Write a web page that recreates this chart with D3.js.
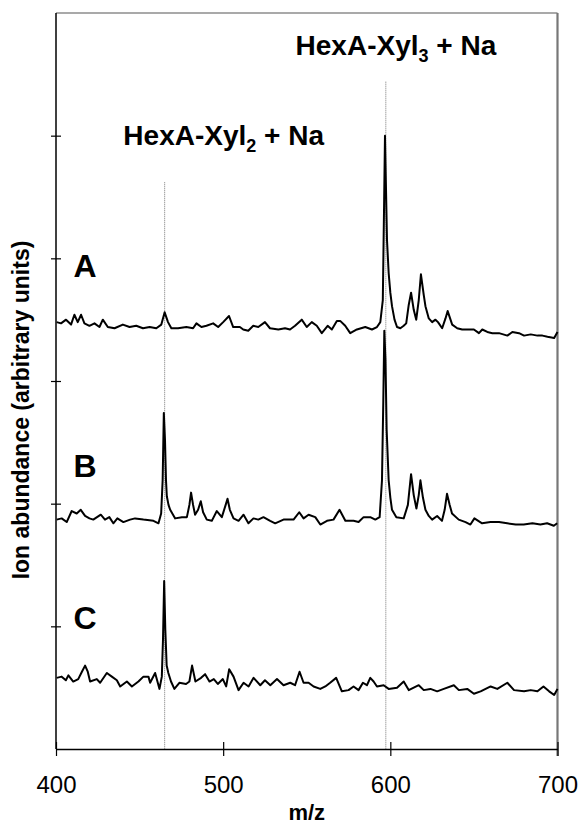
<!DOCTYPE html>
<html>
<head>
<meta charset="utf-8">
<script src="https://cdn.jsdelivr.net/npm/d3@7"></script>
<style>
  body { margin: 0; background: #fff; }
  svg { display: block; font-family: "Liberation Sans", Arial, sans-serif; }
</style>
</head>
<body>
<div id="chart"></div>
<script>
// m/z ticks and the (unlabelled) abundance ticks
const xTicks = [400, 500, 600, 700];
const yTicks = [0, 10, 20, 30, 40, 50, 60];

// stacked spectra, [m/z, abundance] in arbitrary units
const specA = [[400.4,34.8],[403,34.7],[406,35.0],[409,34.6],[411,35.4],[413,34.8],[415,35.4],[417,34.7],[420,34.5],[423,34.7],[426,34.4],[428,35.0],[431,34.4],[435,34.3],[440,34.6],[444,34.4],[448,34.5],[452,34.3],[456,34.4],[460,34.3],[463,34.6],[465,35.6],[467,34.8],[469,34.3],[473,34.3],[478,34.4],[482,34.3],[484,34.7],[487,34.4],[490,34.5],[494,34.7],[497,34.4],[500,34.8],[503.5,35.3],[506,34.4],[510,34.4],[512,34.2],[515,34.1],[518,34.5],[521,34.4],[525,34.8],[528,34.3],[533,34.2],[537,34.3],[540,34.2],[543,34.5],[547,35.0],[550,34.4],[553,34.8],[556,34.5],[559,33.9],[562.5,34.5],[565,34.2],[568,34.9],[570,34.9],[573,34.5],[576,33.9],[580,34.2],[585,34.4],[589,34.2],[592,34.4],[594,34.8],[595.5,36.6],[596.3,44.7],[596.8,50.0],[597.3,46.4],[598,41.5],[599,38.8],[600,37.2],[601,36.1],[602.5,35.0],[604,34.4],[606,34.3],[608,34.5],[609.5,34.7],[611,36.2],[612.4,37.2],[614,35.8],[615.5,35.0],[617,36.6],[618.3,38.7],[620,37.0],[621,36.1],[623,35.1],[625,34.8],[627,35.0],[628.5,34.8],[631,34.3],[633,35.1],[634.3,35.7],[636,35.0],[637,34.6],[640,34.3],[643,34.2],[646,34.2],[650,34.2],[653,33.9],[655,34.2],[658,34.0],[661,33.9],[665,33.9],[670,33.7],[673,34.0],[677,33.9],[680,33.7],[684,33.8],[688,33.7],[691,33.7],[694,33.6],[698,33.5],[700,34.0]];

const specB = [[400.4,18.7],[403.4,18.8],[406.4,18.5],[409.4,19.4],[412.4,19.2],[414.8,19.5],[417.4,19.0],[420,18.8],[422.3,18.7],[426.8,19.1],[429.3,18.7],[431.9,18.9],[434.3,18.4],[436.7,18.8],[440.3,18.5],[444.3,18.7],[447.3,18.8],[452.3,18.7],[458.3,18.6],[461.3,18.4],[462.9,19.2],[463.8,21.9],[464.5,27.4],[465.2,25.2],[465.8,21.9],[466.3,20.6],[467.3,19.9],[468.3,19.5],[471.3,18.8],[475.3,18.9],[478.3,18.9],[479.8,19.9],[480.8,20.9],[482,19.9],[483.2,19.1],[485,19.5],[486.6,20.2],[488,19.3],[490.2,18.7],[493.2,18.6],[496.2,19.4],[499.2,18.9],[501.5,19.9],[502.6,20.4],[504,19.5],[506.2,18.8],[509.2,18.6],[512.2,19.1],[515.1,18.4],[518.1,18.8],[521,18.7],[524.1,18.9],[528.1,18.6],[531.1,18.4],[536.1,18.7],[540.1,18.7],[542.1,18.7],[545.5,19.3],[548.1,18.8],[551.1,19.1],[555.1,18.9],[558.1,18.3],[562.1,18.6],[566,18.7],[569.6,19.5],[573.1,18.6],[578,18.6],[581,18.5],[584,18.9],[588,18.9],[591,18.7],[593.6,18.9],[595,21.9],[595.8,28.4],[596.4,34.1],[597.1,31.7],[597.8,26.0],[599,21.9],[600,20.5],[601,19.5],[603.6,18.9],[608,18.8],[610.5,19.9],[612.4,22.4],[614,20.7],[615.6,19.6],[617,20.7],[618,21.9],[619.5,20.5],[621,19.5],[623,19.0],[625,18.7],[628,19.0],[630.9,18.6],[632.5,19.5],[633.9,20.8],[635.5,19.9],[636.9,19.2],[640.9,18.7],[645,18.5],[647.9,18.3],[650.3,18.8],[654.9,18.4],[659.9,18.5],[665,18.5],[669.9,18.4],[675,18.3],[679.8,18.3],[685,18.4],[689.8,18.3],[693.8,18.4],[697.8,18.2],[699.8,18.4]];

const specC = [[400.4,5.8],[403.4,5.9],[405.9,5.6],[407.4,6.0],[410.3,5.5],[413.3,5.7],[415.5,6.3],[417.4,6.8],[419,6.3],[420.4,5.5],[424.4,5.7],[426.4,5.4],[430.4,6.2],[433.4,5.9],[436.4,5.6],[438.4,5.1],[442.4,5.5],[445.4,5.1],[449.3,5.5],[452.3,5.9],[455.3,5.9],[456.3,5.4],[459.3,6.2],[461.9,4.9],[463.3,5.9],[464,8.9],[464.7,13.7],[465.4,9.7],[466.2,6.8],[467.2,6.2],[468.8,5.5],[470.8,4.9],[473.8,5.4],[477.8,5.3],[479.8,5.5],[481.4,6.8],[483.4,5.5],[486.8,5.8],[489.2,6.1],[491.8,5.5],[494.4,5.7],[496.8,5.3],[499.8,5.7],[501.8,5.1],[503.6,6.5],[506.2,5.9],[509.2,4.8],[512.2,5.4],[515.2,5.1],[518.2,5.8],[522.2,5.2],[525,5.6],[528.2,5.2],[532.2,5.7],[536.1,5.2],[540.1,5.4],[543,5.2],[545.7,6.3],[548.1,5.4],[551.1,5.4],[554.1,5.1],[558.1,4.9],[561.1,5.1],[564,5.4],[567.6,5.8],[571,4.7],[575,4.8],[578,5.1],[581,4.8],[583.6,5.4],[586,5.2],[588,5.8],[590,5.5],[592,5.1],[596,5.2],[599,4.9],[604,5.0],[608,5.5],[611,4.8],[617,5.2],[620,4.8],[624,4.9],[628,4.7],[632,4.9],[638,5.2],[641,4.8],[646,4.9],[650,4.5],[654,4.7],[660,5.1],[664,4.9],[670,5.4],[674,4.8],[680,4.7],[684,4.8],[688,4.7],[691.6,5.1],[695,4.7],[698,4.4],[700,4.9]];

const traceNames = ["A", "B", "C"];
const traceLabelLevels = [38.5, 22.2, 9.8];

// ion markers: m/z of dotted line, top of the line, label text pieces
const ionMz = [465, 597.3];
const ionLineTop = [46.2, 54.4];
const ionLabel = [["HexA-Xyl", "2", " + Na"], ["HexA-Xyl", "3", " + Na"]];
const ionLabelMz = [440.3, 543.3];
const ionLabelLevel = [49.2, 56.6];

const W = 579, H = 824;
const margin = {top: 13, right: 21.5, bottom: 75, left: 56};

const svg = d3.select("#chart").append("svg")
    .attr("width", W)
    .attr("height", H);

const x = d3.scaleLinear().domain([400, 700]).range([margin.left, W - margin.right]);
const y = d3.scaleLinear().domain([0, 60]).range([H - margin.bottom, margin.top]);

// frame: top and right in grey
svg.append("line")
    .attr("x1", x(400)).attr("x2", x(700))
    .attr("y1", y(60)).attr("y2", y(60))
    .attr("stroke", "#555").attr("stroke-width", 1.2);
svg.append("line")
    .attr("x1", x(700)).attr("x2", x(700))
    .attr("y1", y(60)).attr("y2", y(0) + 7)
    .attr("stroke", "#777").attr("stroke-width", 2.2);

// dotted ion lines
svg.selectAll(".ion")
    .data(ionMz)
    .enter().append("line")
    .attr("x1", d => x(d)).attr("x2", d => x(d))
    .attr("y1", (d, i) => y(ionLineTop[i]))
    .attr("y2", y(0))
    .attr("stroke", "#777")
    .attr("stroke-width", 1)
    .attr("stroke-dasharray", "1,1");

// axes
const xAxis = svg.append("g")
    .attr("transform", `translate(0,${y(0)})`)
    .call(d3.axisBottom(x).tickValues(xTicks).tickSize(7).tickSizeOuter(0).tickPadding(20));
xAxis.select(".domain").attr("stroke", "#000").attr("stroke-width", 1.5);
xAxis.selectAll(".tick line").attr("y1", -7).attr("stroke-width", 1.2);
xAxis.selectAll("text")
    .attr("font-size", 24)
    .attr("fill", "#000")
    .attr("font-family", "Liberation Sans, Arial, sans-serif");

const yAxis = svg.append("g")
    .attr("transform", `translate(${x(400)},0)`)
    .call(d3.axisLeft(y).tickValues(yTicks.slice(1, -1)).tickSize(5).tickFormat(""));
yAxis.select(".domain").attr("stroke", "#000").attr("stroke-width", 1.5)
    .attr("d", `M0,${y(0)}V${y(60)}`);
yAxis.selectAll(".tick line").attr("x2", 5).attr("x1", -5).attr("stroke-width", 1.2);

// spectra
const line = d3.line()
    .x(d => x(d[0]))
    .y(d => y(d[1]));

svg.selectAll(".spec")
    .data([specA, specB, specC])
    .enter().append("path")
    .attr("d", line)
    .attr("fill", "none")
    .attr("stroke", "#000")
    .attr("stroke-width", 2)
    .attr("stroke-linejoin", "round");

// A / B / C
svg.selectAll(".trace")
    .data(traceNames)
    .enter().append("text")
    .attr("x", x(410.4))
    .attr("y", (d, i) => y(traceLabelLevels[i]))
    .attr("font-size", 32)
    .attr("font-weight", "bold")
    .text(d => d);

// ion annotations
const ann = svg.selectAll(".ann")
    .data(ionLabel)
    .enter().append("text")
    .attr("x", (d, i) => x(ionLabelMz[i]))
    .attr("y", (d, i) => y(ionLabelLevel[i]))
    .attr("font-size", 28)
    .attr("font-weight", "bold");
ann.append("tspan").text(d => d[0]);
ann.append("tspan").attr("font-size", 18).attr("dy", 7).text(d => d[1]);
ann.append("tspan").attr("dy", -7).text(d => d[2]);

// axis titles
svg.append("text")
    .attr("x", (x(400) + x(700)) / 2)
    .attr("y", 820)
    .attr("text-anchor", "middle")
    .attr("font-size", 22)
    .attr("font-weight", "bold")
    .text("m/z");

svg.append("text")
    .attr("transform", "translate(29,410) rotate(-90)")
    .attr("text-anchor", "middle")
    .attr("font-size", 23)
    .attr("font-weight", "bold")
    .text("Ion abundance (arbitrary units)");
</script>
</body>
</html>
